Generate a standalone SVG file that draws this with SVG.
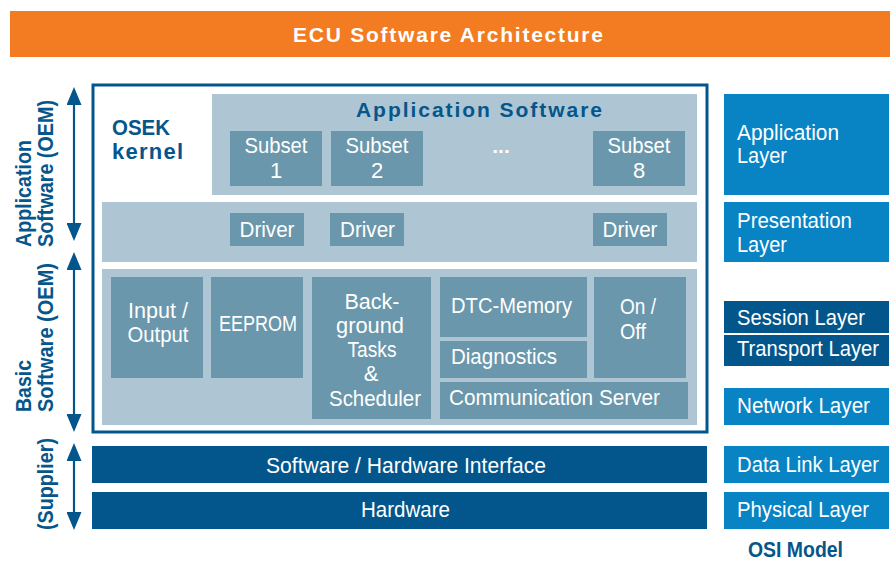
<svg xmlns="http://www.w3.org/2000/svg" width="895" height="561" viewBox="0 0 895 561">
<defs>
<style>
.lt{fill:#aec5d3}
.md{fill:#6a97ab}
.dk{fill:#03568b}
.osi{fill:#0883c4}
text{font-family:"Liberation Sans",Arial,sans-serif}
.w{fill:#ffffff;font-size:22px}
.wm{fill:#ffffff;font-size:22px;text-anchor:middle}
.lbl{fill:#05568b;font-size:22px;font-weight:bold}
.arr{stroke:#03568b;stroke-width:2.2;fill:none}
</style>
<marker id="ah" markerUnits="userSpaceOnUse" markerWidth="18" markerHeight="15" refX="6" refY="7.5" orient="auto-start-reverse">
<path d="M0,0 L18,7.5 L0,15 z" fill="#03568b"/>
</marker>
</defs>
<rect x="0" y="0" width="895" height="561" fill="#ffffff"/>

<g id="title">
<rect x="10" y="11" width="880" height="46" fill="#f37b21"/>
<text x="448" y="42" text-anchor="middle" fill="#ffffff" font-size="21" font-weight="bold" textLength="310">ECU Software Architecture</text>
</g>

<g id="ecu-box">
<rect x="93" y="85" width="614" height="347" fill="none" stroke="#03568b" stroke-width="3"/>
</g>

<g id="osek-kernel">
<text class="lbl" x="112" y="135" textLength="58" lengthAdjust="spacingAndGlyphs">OSEK</text>
<text class="lbl" x="112" y="159" textLength="71">kernel</text>
</g>

<g id="application-software">
<rect class="lt" x="212" y="94" width="485" height="101"/>
<text x="479" y="117" text-anchor="middle" fill="#05568b" font-size="21" font-weight="bold" textLength="246">Application Software</text>
<text x="501" y="153" text-anchor="middle" fill="#ffffff" font-size="21" font-weight="bold">...</text>
</g>
<g id="subset-1">
<rect class="md" x="230" y="131" width="92" height="55"/>
<text class="wm" x="276" y="153" textLength="63" lengthAdjust="spacingAndGlyphs">Subset</text>
<text class="wm" x="276" y="178">1</text>
</g>
<g id="subset-2">
<rect class="md" x="331" y="131" width="92" height="55"/>
<text class="wm" x="377" y="153" textLength="63" lengthAdjust="spacingAndGlyphs">Subset</text>
<text class="wm" x="377" y="178">2</text>
</g>
<g id="subset-8">
<rect class="md" x="593" y="131" width="92" height="55"/>
<text class="wm" x="639" y="153" textLength="63" lengthAdjust="spacingAndGlyphs">Subset</text>
<text class="wm" x="639" y="178">8</text>
</g>

<g id="driver-layer">
<rect class="lt" x="102" y="202" width="595" height="60"/>
</g>
<g id="driver-1">
<rect class="md" x="230" y="213" width="74" height="33"/>
<text class="wm" x="267" y="237" textLength="55" lengthAdjust="spacingAndGlyphs">Driver</text>
</g>
<g id="driver-2">
<rect class="md" x="330" y="213" width="74" height="33"/>
<text class="wm" x="367.5" y="237" textLength="55" lengthAdjust="spacingAndGlyphs">Driver</text>
</g>
<g id="driver-3">
<rect class="md" x="593" y="213" width="74" height="33"/>
<text class="wm" x="630" y="237" textLength="55" lengthAdjust="spacingAndGlyphs">Driver</text>
</g>

<g id="basic-software">
<rect class="lt" x="102" y="269" width="595" height="156"/>
</g>
<g id="input-output">
<rect class="md" x="111" y="277" width="92" height="101"/>
<text class="wm" x="158" y="318" textLength="60" lengthAdjust="spacingAndGlyphs">Input /</text>
<text class="wm" x="158" y="342" textLength="61" lengthAdjust="spacingAndGlyphs">Output</text>
</g>
<g id="eeprom">
<rect class="md" x="211" y="277" width="92" height="101"/>
<text class="wm" x="258" y="331" textLength="78" lengthAdjust="spacingAndGlyphs">EEPROM</text>
</g>
<g id="background-tasks">
<rect class="md" x="312" y="277" width="119" height="142"/>
<text class="wm" x="372" y="309" textLength="55" lengthAdjust="spacingAndGlyphs">Back-</text>
<text class="wm" x="370" y="333" textLength="68" lengthAdjust="spacingAndGlyphs">ground</text>
<text class="wm" x="372" y="357" textLength="49" lengthAdjust="spacingAndGlyphs">Tasks</text>
<text class="wm" x="371" y="381">&amp;</text>
<text class="wm" x="375" y="406" textLength="92" lengthAdjust="spacingAndGlyphs">Scheduler</text>
</g>
<g id="dtc-memory">
<rect class="md" x="440" y="277" width="147" height="60"/>
<text class="w" x="451" y="313" textLength="121" lengthAdjust="spacingAndGlyphs">DTC-Memory</text>
</g>
<g id="diagnostics">
<rect class="md" x="440" y="341" width="147" height="37"/>
<text class="w" x="451" y="364" textLength="106" lengthAdjust="spacingAndGlyphs">Diagnostics</text>
</g>
<g id="on-off">
<rect class="md" x="594" y="277" width="92" height="101"/>
<text class="w" x="620" y="314" textLength="36" lengthAdjust="spacingAndGlyphs">On /</text>
<text class="w" x="620" y="339" textLength="26" lengthAdjust="spacingAndGlyphs">Off</text>
</g>
<g id="communication-server">
<rect class="md" x="440" y="382" width="248" height="37"/>
<text class="w" x="449" y="405" textLength="211" lengthAdjust="spacingAndGlyphs">Communication Server</text>
</g>

<g id="sw-hw-interface">
<rect class="dk" x="92" y="446" width="615" height="37"/>
<text class="wm" x="406" y="473" textLength="280" lengthAdjust="spacingAndGlyphs">Software / Hardware Interface</text>
</g>
<g id="hardware">
<rect class="dk" x="92" y="492" width="615" height="37"/>
<text class="wm" x="405.5" y="517" textLength="89" lengthAdjust="spacingAndGlyphs">Hardware</text>
</g>

<g id="osi-application">
<rect class="osi" x="724" y="94" width="165" height="101"/>
<text class="w" x="737" y="140" textLength="102" lengthAdjust="spacingAndGlyphs">Application</text>
<text class="w" x="737" y="163" textLength="50" lengthAdjust="spacingAndGlyphs">Layer</text>
</g>
<g id="osi-presentation">
<rect class="osi" x="724" y="202" width="165" height="60"/>
<text class="w" x="737" y="228" textLength="115" lengthAdjust="spacingAndGlyphs">Presentation</text>
<text class="w" x="737" y="252" textLength="50" lengthAdjust="spacingAndGlyphs">Layer</text>
</g>
<g id="osi-session">
<rect class="dk" x="724" y="301" width="165" height="32"/>
<text class="w" x="737" y="325" textLength="128" lengthAdjust="spacingAndGlyphs">Session Layer</text>
</g>
<g id="osi-transport">
<rect class="dk" x="724" y="335" width="165" height="31"/>
<text class="w" x="737" y="356" textLength="142" lengthAdjust="spacingAndGlyphs">Transport Layer</text>
</g>
<g id="osi-network">
<rect class="osi" x="724" y="388" width="165" height="37"/>
<text class="w" x="737" y="413" textLength="133" lengthAdjust="spacingAndGlyphs">Network Layer</text>
</g>
<g id="osi-datalink">
<rect class="osi" x="724" y="446" width="165" height="37"/>
<text class="w" x="737" y="472" textLength="142" lengthAdjust="spacingAndGlyphs">Data Link Layer</text>
</g>
<g id="osi-physical">
<rect class="osi" x="724" y="492" width="165" height="37"/>
<text class="w" x="737" y="517" textLength="132" lengthAdjust="spacingAndGlyphs">Physical Layer</text>
</g>
<g id="osi-caption">
<text class="lbl" x="748" y="557" textLength="95" lengthAdjust="spacingAndGlyphs">OSI Model</text>
</g>

<g id="side-labels">
<text class="lbl" transform="translate(31,247) rotate(-90)" textLength="107" lengthAdjust="spacingAndGlyphs">Application</text>
<text class="lbl" transform="translate(53,247) rotate(-90)" textLength="147" lengthAdjust="spacingAndGlyphs">Software (OEM)</text>
<text class="lbl" transform="translate(31,412) rotate(-90)" textLength="52" lengthAdjust="spacingAndGlyphs">Basic</text>
<text class="lbl" transform="translate(53,412) rotate(-90)" textLength="149" lengthAdjust="spacingAndGlyphs">Software (OEM)</text>
<text class="lbl" transform="translate(53,530) rotate(-90)" textLength="92" lengthAdjust="spacingAndGlyphs">(Supplier)</text>
</g>

<g id="connectors">
<line class="arr" x1="74" y1="99" x2="74" y2="229" marker-start="url(#ah)" marker-end="url(#ah)"/>
<line class="arr" x1="74" y1="264" x2="74" y2="420" marker-start="url(#ah)" marker-end="url(#ah)"/>
<line class="arr" x1="74" y1="455" x2="74" y2="518" marker-start="url(#ah)" marker-end="url(#ah)"/>
</g>
</svg>
